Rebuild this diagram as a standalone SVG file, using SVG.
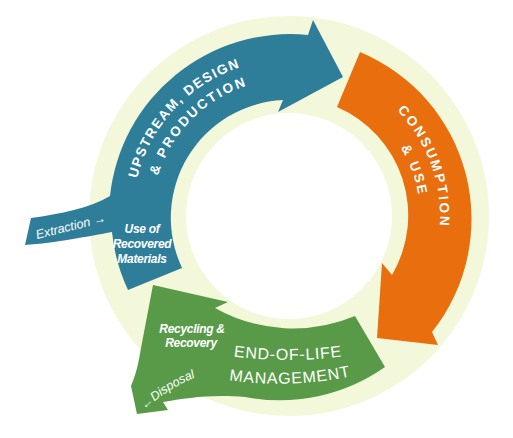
<svg xmlns="http://www.w3.org/2000/svg" width="513" height="438" viewBox="0 0 513 438">
<style>
.big{font-family:"Liberation Sans",Arial,sans-serif;font-weight:bold;font-size:13.5px;fill:#fff}
.eol{font-family:"Liberation Sans",Arial,sans-serif;font-size:16px;fill:#fff;letter-spacing:0.8px}
.sub{font-family:"Liberation Sans",Arial,sans-serif;font-style:italic;font-weight:bold;font-size:12px;fill:#fff;letter-spacing:-0.3px}
.side{font-family:"Liberation Sans",Arial,sans-serif;font-style:italic;font-size:12.5px;fill:#fff}
</style>
<defs>
<path id="p-up1" d="M139.3 261.8 A156.5 156.5 0 0 1 324.2 63.5"/>
<path id="p-up2" d="M156.7 251.7 A137 137 0 0 1 324.2 83.6"/>
<path id="p-co1" d="M315.5 67.3 A151 151 0 0 1 404.5 313.3"/>
<path id="p-co2" d="M311.7 87 A131 131 0 0 1 389.3 300.2"/>
<path id="p-eol1" d="M230 356 Q288 364 346 356"/>
<path id="p-eol2" d="M228 380 Q290 389 352 376"/>
<path id="p-disp" d="M145 410 Q170 385 210 372"/>
</defs>
<rect width="513" height="438" fill="#fff"/>
<g id="ring">
<circle cx="289" cy="216" r="200" fill="#f4f8da"/>
<circle cx="289" cy="216" r="103" fill="#fff"/>
</g>
<g id="node-upstream">
<path fill="#2e7e99" d="M308 35 L313 20 L343 77 L278 112 L283 100 A118 118 0 0 0 182 268 L128 290 A178 178 0 0 1 112 232 C90 236 55 243 25 245 L31 218 C60 214 90 208 110 196 A181 181 0 0 1 308 35 Z"/>
<text class="big" letter-spacing="1.5"><textPath href="#p-up1" startOffset="50%" text-anchor="middle">UPSTREAM, DESIGN</textPath></text>
<text class="big" letter-spacing="2.4"><textPath href="#p-up2" startOffset="50%" text-anchor="middle">&amp; PRODUCTION</textPath></text>
<text class="side" x="37" y="239" transform="rotate(-14 37 239)">Extraction →</text>
<text class="sub" text-anchor="middle"><tspan x="142" y="233">Use of</tspan><tspan x="142" y="248">Recovered</tspan><tspan x="142" y="263">Materials</tspan></text>
</g>
<g id="node-consumption">
<path fill="#e86e0e" d="M360 52 A181 181 0 0 1 432 332 L438 345 L377 338 L382 263 L392 275 A118 118 0 0 0 337 107 Z"/>
<text class="big" letter-spacing="2.5"><textPath href="#p-co1" startOffset="50%" text-anchor="middle">CONSUMPTION</textPath></text>
<text class="big" letter-spacing="2.2"><textPath href="#p-co2" startOffset="50%" text-anchor="middle">&amp; USE</textPath></text>
</g>
<g id="node-eol">
<path fill="#589a47" d="M355 316 L385 367 A183 183 0 0 1 245 397 C212 394 186 398 163 402 L168 410 L137 414 L131 386 C137 372 139 360 141 348 L153 285 L228 302 L215 308 A160 160 0 0 0 355 316 Z"/>
<text class="eol"><textPath href="#p-eol1" startOffset="50%" text-anchor="middle">END-OF-LIFE</textPath></text>
<text class="eol"><textPath href="#p-eol2" startOffset="50%" text-anchor="middle">MANAGEMENT</textPath></text>
<text class="sub" text-anchor="middle"><tspan x="192" y="333">Recycling &amp;</tspan><tspan x="191" y="347">Recovery</tspan></text>
<text class="side"><textPath href="#p-disp">←Disposal</textPath></text>
</g>
<g id="connectors"></g>
</svg>
